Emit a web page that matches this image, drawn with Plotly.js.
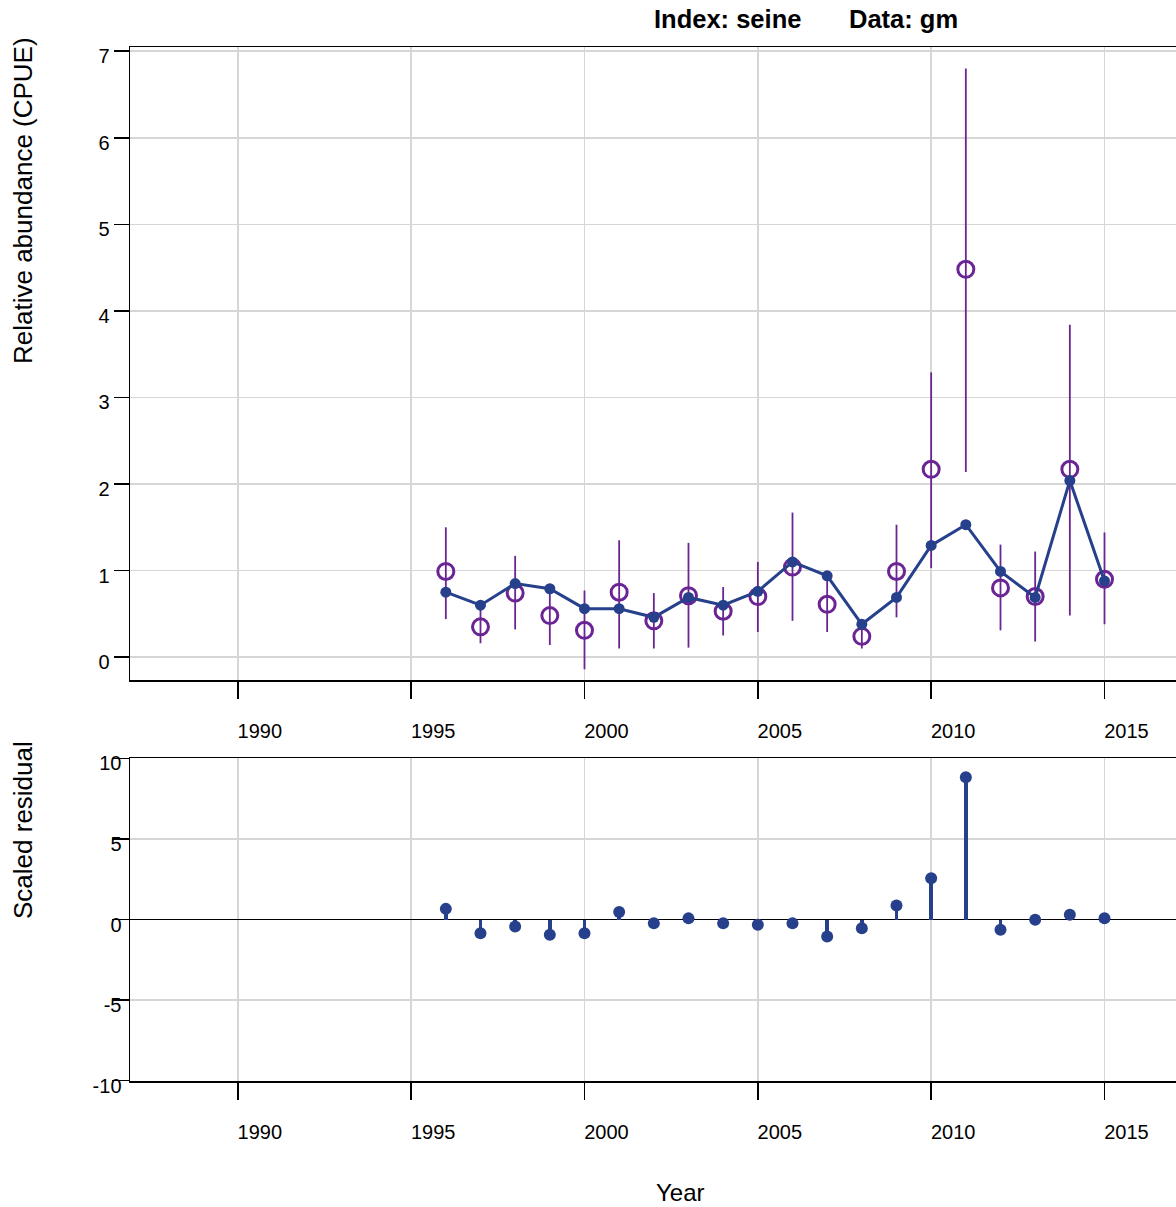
<!DOCTYPE html>
<html>
<head>
<meta charset="utf-8">
<script src="https://cdn.plot.ly/plotly-3.0.1.min.js"></script>
<style>
  html, body { margin: 0; padding: 0; overflow: hidden; background: #fff; }
  #plot { width: 1240px; height: 1207px; }
</style>
</head>
<body>
<div id="plot"></div>
<script>
"use strict";

// ── Data ──
const years     = [1996, 1997, 1998, 1999, 2000, 2001, 2002, 2003, 2004, 2005,
                   2006, 2007, 2008, 2009, 2010, 2011, 2012, 2013, 2014, 2015];
const observed  = [0.99, 0.35, 0.74, 0.48, 0.31, 0.75, 0.42, 0.71, 0.53, 0.70,
                   1.04, 0.61, 0.24, 0.99, 2.17, 4.48, 0.80, 0.70, 2.17, 0.90];
const obsUpper  = [1.50, 0.60, 1.17, 0.83, 0.77, 1.35, 0.74, 1.32, 0.81, 1.10,
                   1.67, 0.95, 0.39, 1.53, 3.29, 6.80, 1.30, 1.22, 3.84, 1.44];
const obsLower  = [0.44, 0.16, 0.32, 0.14, -0.14, 0.10, 0.10, 0.11, 0.25, 0.29,
                   0.42, 0.29, 0.10, 0.46, 1.03, 2.14, 0.31, 0.18, 0.48, 0.38];
const predicted = [0.75, 0.60, 0.85, 0.79, 0.56, 0.56, 0.46, 0.69, 0.60, 0.76,
                   1.10, 0.94, 0.38, 0.69, 1.29, 1.53, 0.99, 0.69, 2.04, 0.88];
const residuals = [0.66, -0.85, -0.43, -0.95, -0.85, 0.46, -0.23, 0.07, -0.23, -0.33,
                   -0.23, -1.05, -0.54, 0.87, 2.56, 8.83, -0.64, -0.02, 0.29, 0.08];
const yearTicks = [1990, 1995, 2000, 2005, 2010, 2015];
const cpueTicks = [0, 1, 2, 3, 4, 5, 6, 7];
const residTicks = [-10, -5, 0, 5, 10];
const residTickText = ["-10", "-5", "0", "5", "10"];

const BLUE = "#26408B";
const PURPLE = "#6A2493";
const GRID = "#d6d6d6";
const FONT = "Liberation Sans, Arial, sans-serif";

const errPlus  = observed.map((v, i) => obsUpper[i] - v);
const errMinus = observed.map((v, i) => v - obsLower[i]);

const traces = [
    // observed CPUE with intervals
    {
        type: "scatter", mode: "markers", x: years, y: observed,
        xaxis: "x", yaxis: "y",
        marker: { symbol: "circle-open", size: 16, color: PURPLE,
                  line: { width: 3, color: PURPLE } },
        error_y: { type: "data", symmetric: false, array: errPlus,
                   arrayminus: errMinus, color: PURPLE, thickness: 1.8, width: 0 },
        showlegend: false, hoverinfo: "x+y",
    },
    // predicted
    {
        type: "scatter", mode: "lines+markers", x: years, y: predicted,
        xaxis: "x", yaxis: "y",
        line: { color: BLUE, width: 3 },
        marker: { symbol: "circle", size: 11, color: BLUE },
        showlegend: false,
    },
    // residual stems
    {
        type: "bar", x: years, y: residuals, width: 0.1,
        xaxis: "x2", yaxis: "y2",
        marker: { color: BLUE, line: { width: 0 } },
        showlegend: false, hoverinfo: "skip",
    },
    {
        type: "scatter", mode: "markers", x: years, y: residuals,
        xaxis: "x2", yaxis: "y2",
        marker: { symbol: "circle", size: 12, color: BLUE },
        showlegend: false,
    },
];

const H = 1207, L = 130, PW = 1100;
const py = px => 1 - px / H;          // pixel row -> paper y
const pxX = px => (px - L) / PW;      // pixel column -> paper x

const xCommon = {
    range: [1986.89, 2018.62],
    tickvals: yearTicks,
    showgrid: true, gridcolor: GRID, gridwidth: 1.5,
    zeroline: false,
    ticks: "outside", ticklen: 17, tickwidth: 1.5, tickcolor: "#000",
    showline: true, linecolor: "#000", linewidth: 1.5, mirror: true,
    tickfont: { family: FONT, size: 20, color: "#000" },
    ticklabelshift: 22, ticklabelstandoff: 15,
};

const layout = {
    width: 1240, height: H,
    margin: { l: L, r: 10, t: 0, b: 0 },
    paper_bgcolor: "#fff", plot_bgcolor: "#fff",
    font: { family: FONT, color: "#000" },
    bargap: 0,
    xaxis: Object.assign({}, xCommon, { anchor: "y", domain: [0, 1] }),
    xaxis2: Object.assign({}, xCommon, { anchor: "y2", domain: [0, 1] }),
    yaxis: {
        domain: [py(680), py(47.3)],
        range: [-0.264, 7.045],
        tickvals: cpueTicks,
        showgrid: true, gridcolor: GRID, gridwidth: 1.5, zeroline: false,
        ticks: "outside", ticklen: 15, tickwidth: 1.5, tickcolor: "#000",
        showline: true, linecolor: "#000", linewidth: 1.5, mirror: true,
        tickfont: { family: FONT, size: 20, color: "#000" },
        ticklabelshift: 5,
        anchor: "x",
    },
    yaxis2: {
        domain: [py(1081), py(758)],
        range: [-10.03, 10.03],
        tickvals: residTicks, ticktext: residTickText,
        showgrid: true, gridcolor: GRID, gridwidth: 1.5,
        zeroline: true, zerolinecolor: "#000", zerolinewidth: 1.8,
        ticks: "outside", ticklen: 17, tickwidth: 1.5, tickcolor: "#000",
        showline: true, linecolor: "#000", linewidth: 1.5, mirror: true,
        tickfont: { family: FONT, size: 20, color: "#000" },
        ticklabelshift: 5, ticklabelstandoff: -14,
        anchor: "x2",
    },
    annotations: [
        { text: "<b>Index: seine</b>", xref: "paper", yref: "paper",
          x: pxX(728), y: py(19), xanchor: "center", yanchor: "middle",
          showarrow: false, font: { family: FONT, size: 25.5 } },
        { text: "<b>Data: gm</b>", xref: "paper", yref: "paper",
          x: pxX(903), y: py(19), xanchor: "center", yanchor: "middle",
          showarrow: false, font: { family: FONT, size: 25.5 } },
        { text: "Relative abundance (CPUE)", xref: "paper", yref: "paper",
          x: pxX(23), y: py(201), xanchor: "center", yanchor: "middle",
          textangle: -90, showarrow: false, font: { family: FONT, size: 26 } },
        { text: "Scaled residual", xref: "paper", yref: "paper",
          x: pxX(23), y: py(830), xanchor: "center", yanchor: "middle",
          textangle: -90, showarrow: false, font: { family: FONT, size: 26 } },
        { text: "Year", xref: "paper", yref: "paper",
          x: pxX(680), y: py(1192), xanchor: "center", yanchor: "middle",
          showarrow: false, font: { family: FONT, size: 24 } },
    ],
};

Plotly.newPlot("plot", traces, layout, { displayModeBar: false, staticPlot: true });
</script>
</body>
</html>
